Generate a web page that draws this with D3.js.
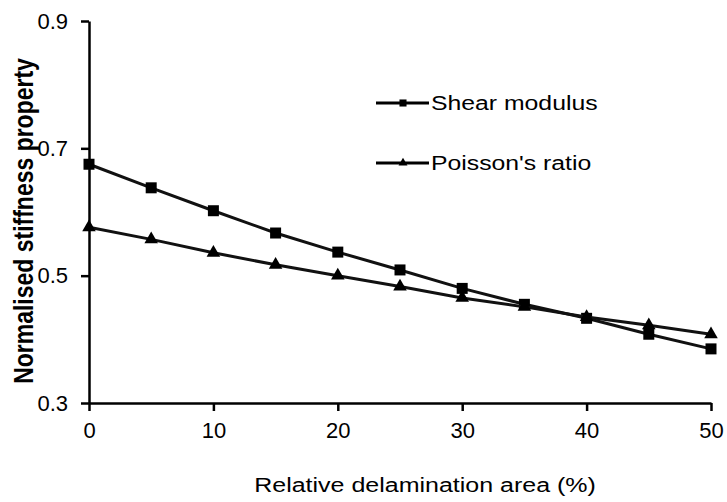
<!DOCTYPE html>
<html>
<head>
<meta charset="utf-8">
<script src="https://cdn.jsdelivr.net/npm/d3@7"></script>
<style>
  body { margin: 0; background: #fff; }
  svg text { font-family: "Liberation Sans", Arial, sans-serif; fill: #000; }
</style>
</head>
<body>
<div id="container"></div>
<script>
// chart data
var areas = [0, 5, 10, 15, 20, 25, 30, 35, 40, 45, 50];
var shearModulus = [0.675, 0.638, 0.602, 0.567, 0.537, 0.509, 0.480, 0.455, 0.433, 0.408, 0.385];
var poissonsRatio = [0.576, 0.557, 0.536, 0.517, 0.500, 0.483, 0.465, 0.451, 0.435, 0.422, 0.408];
var xTicks = [0, 10, 20, 30, 40, 50];
var yTicks = [0.3, 0.5, 0.7, 0.9];
var seriesNames = ["Shear modulus", "Poisson's ratio"];

var width = 727, height = 502;
var margin = {left: 89, right: 16, top: 21, bottom: 99};

var svg = d3.select("#container").append("svg")
    .attr("width", width)
    .attr("height", height);

var x = d3.scaleLinear().domain([0, 50]).range([margin.left, width - margin.right]);
var y = d3.scaleLinear().domain([0.3, 0.9]).range([height - margin.bottom, margin.top]);

//axes
var xAxis = svg.append("g")
    .attr("transform", "translate(0," + y(0.3) + ")")
    .call(d3.axisBottom(x).tickValues(xTicks).tickSize(8).tickPadding(11).tickSizeOuter(0));
var yAxis = svg.append("g")
    .attr("transform", "translate(" + x(0) + ",0)")
    .call(d3.axisLeft(y).tickValues(yTicks).tickSize(8).tickPadding(13).tickSizeOuter(0)
        .tickFormat(d3.format(".1f")));

[xAxis, yAxis].forEach(function(g) {
    g.selectAll("path, line").attr("stroke", "#000").attr("stroke-width", 2.5);
    g.selectAll("text").style("font-size", "22px");
});

//axis titles (the original lettering is a bit wide, hence the x scale)
svg.append("text")
    .attr("transform", "translate(425,492) scale(1.25,1)")
    .attr("text-anchor", "middle")
    .style("font-size", "20px")
    .text("Relative delamination area (%)");

svg.append("text")
    .attr("transform", "translate(33,221) scale(1.2,1) rotate(-90)")
    .attr("text-anchor", "middle")
    .style("font-size", "23px")
    .style("font-weight", "bold")
    .text("Normalised stiffness property");

var line = d3.line()
    .x(function(d) { return x(d[0]); })
    .y(function(d) { return y(d[1]); });

var series = [shearModulus, poissonsRatio].map(function(vals) {
    return areas.map(function(a, i) { return [a, vals[i]]; });
});
var symbols = [d3.symbolSquare, d3.symbolTriangle];

series.forEach(function(pts, k) {
    svg.append("path")
        .datum(pts)
        .attr("fill", "none")
        .attr("stroke", "#111")
        .attr("stroke-width", 3)
        .attr("d", line);

    svg.selectAll(".m" + k)
        .data(pts)
        .enter()
        .append("path")
        .attr("class", "m" + k)
        .attr("transform", function(d) { return "translate(" + x(d[0]) + "," + y(d[1]) + ")"; })
        .attr("d", d3.symbol().type(symbols[k]).size(k == 0 ? 121 : 80))
        .attr("fill", "#000");
});

//legend
var legend = svg.append("g").attr("transform", "translate(376,103)");
seriesNames.forEach(function(name, k) {
    var g = legend.append("g").attr("transform", "translate(0," + (k * 60) + ")");
    g.append("line")
        .attr("x1", 0).attr("x2", 53)
        .attr("stroke", "#000").attr("stroke-width", 3);
    g.append("path")
        .attr("transform", "translate(27,0)")
        .attr("d", d3.symbol().type(symbols[k]).size(k == 0 ? 50 : 35))
        .attr("fill", "#000");
    g.append("text")
        .attr("transform", "translate(55,0) scale(1.18,1)")
        .attr("dy", "0.35em")
        .style("font-size", "21px")
        .text(name);
});
</script>
</body>
</html>
